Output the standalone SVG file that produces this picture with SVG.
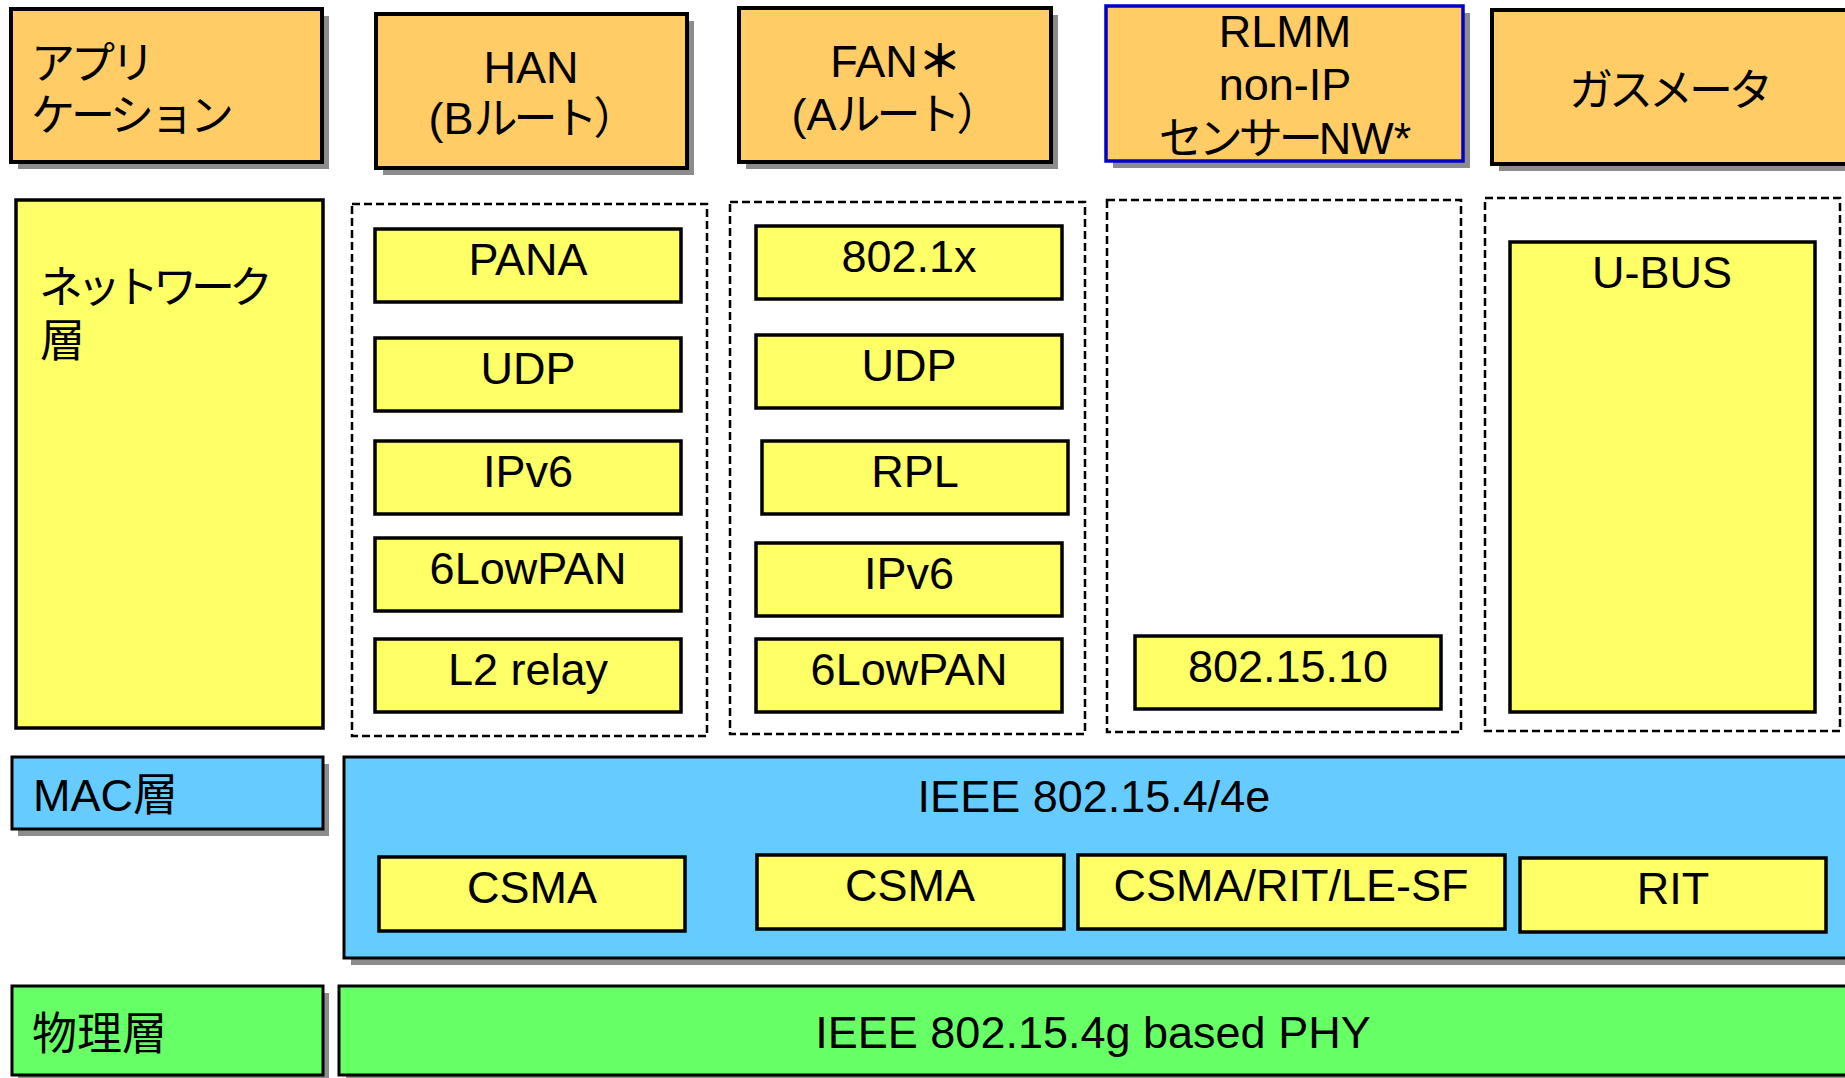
<svg xmlns="http://www.w3.org/2000/svg" width="1845" height="1078" viewBox="0 0 1845 1078">
<style>
.t{font-family:"Liberation Sans","Noto Sans CJK JP",sans-serif;font-size:45px;fill:#000}
.m{text-anchor:middle}
.j{font-family:"Noto Sans CJK JP",sans-serif;font-size:44px;letter-spacing:-4px}
.k{font-family:"Noto Sans CJK JP",sans-serif;font-size:45px}
.or{fill:#FFCC66;stroke:#000;stroke-width:4}
.orb{fill:#FFCC66;stroke:#0000CC;stroke-width:3.5}
.ye{fill:#FFFF66;stroke:#000;stroke-width:3.5}
.bl{fill:#66CCFF;stroke:#000;stroke-width:3}
.gr{fill:#66FF66;stroke:#000;stroke-width:3}
.sh{fill:#8c8c8c}
.dash{fill:none;stroke:#000;stroke-width:2.5;stroke-dasharray:8 4}
</style>
<rect width="1845" height="1078" fill="#fff"/>
<g id="app">
<rect class="sh" x="18" y="16" width="311" height="153"/>
<rect class="or" x="11" y="9" width="311" height="153"/>
<text class="t j" x="31" y="79">アプリ</text>
<text class="t j" x="31" y="131">ケーション</text>
</g>
<g id="han">
<rect class="sh" x="383" y="21" width="311" height="154"/>
<rect class="or" x="376" y="14" width="311" height="154"/>
<text class="t m" x="531" y="83">HAN</text>
<text class="t m" x="531" y="134">(B<tspan class="j">ルート）</tspan></text>
</g>
<g id="fan">
<rect class="sh" x="746" y="15" width="312" height="154"/>
<rect class="or" x="739" y="8" width="312" height="154"/>
<text class="t m" x="894" y="77">FAN<tspan class="j" font-weight="bold">＊</tspan></text>
<text class="t m" x="894" y="130">(A<tspan class="j">ルート）</tspan></text>
</g>
<g id="rlmm">
<rect class="sh" x="1113" y="13" width="357" height="155"/>
<rect class="orb" x="1106" y="6" width="357" height="155"/>
<text class="t m" x="1285" y="47">RLMM</text>
<text class="t m" x="1285" y="100">non-IP</text>
<text class="t m" x="1285" y="154"><tspan class="j">センサー</tspan>NW*</text>
</g>
<g id="gas">
<rect class="sh" x="1499" y="17" width="360" height="154"/>
<rect class="or" x="1492" y="10" width="360" height="154"/>
<text class="t m j" x="1669" y="106">ガスメータ</text>
</g>
<g id="network-layer">
<rect class="ye" x="16" y="200" width="307" height="528"/>
<text class="t j" x="39" y="303" style="letter-spacing:-6px">ネットワーク</text>
<text class="t k" x="40" y="357">層</text>
</g>
<g id="han-stack">
<rect class="dash" x="352" y="204" width="355" height="532"/>
<g id="han-pana"><rect class="ye" x="375" y="229" width="306" height="73"/><text class="t m" x="528" y="275">PANA</text></g>
<g id="han-udp"><rect class="ye" x="375" y="338" width="306" height="73"/><text class="t m" x="528" y="384">UDP</text></g>
<g id="han-ipv6"><rect class="ye" x="375" y="441" width="306" height="73"/><text class="t m" x="528" y="487">IPv6</text></g>
<g id="han-6lowpan"><rect class="ye" x="375" y="538" width="306" height="73"/><text class="t m" x="528" y="584">6LowPAN</text></g>
<g id="han-l2relay"><rect class="ye" x="375" y="639" width="306" height="73"/><text class="t m" x="528" y="685">L2 relay</text></g>
</g>
<g id="fan-stack">
<rect class="dash" x="730" y="202" width="355" height="532"/>
<g id="fan-8021x"><rect class="ye" x="756" y="226" width="306" height="73"/><text class="t m" x="909" y="272">802.1x</text></g>
<g id="fan-udp"><rect class="ye" x="756" y="335" width="306" height="73"/><text class="t m" x="909" y="381">UDP</text></g>
<g id="fan-rpl"><rect class="ye" x="762" y="441" width="306" height="73"/><text class="t m" x="915" y="487">RPL</text></g>
<g id="fan-ipv6"><rect class="ye" x="756" y="543" width="306" height="73"/><text class="t m" x="909" y="589">IPv6</text></g>
<g id="fan-6lowpan"><rect class="ye" x="756" y="639" width="306" height="73"/><text class="t m" x="909" y="685">6LowPAN</text></g>
</g>
<g id="rlmm-stack">
<rect class="dash" x="1107" y="200" width="354" height="532"/>
<g id="rlmm-802-15-10"><rect class="ye" x="1135" y="636" width="306" height="73"/><text class="t m" x="1288" y="682">802.15.10</text></g>
</g>
<g id="gas-stack">
<rect class="dash" x="1485" y="198" width="355" height="533"/>
<g id="gas-ubus"><rect class="ye" x="1510" y="242" width="305" height="470"/><text class="t m" x="1662" y="288">U-BUS</text></g>
</g>
<g id="mac-label">
<rect class="sh" x="18" y="764" width="311" height="72"/>
<rect class="bl" x="12" y="757" width="311" height="72"/>
<text class="t" x="33" y="811">MAC<tspan class="k">層</tspan></text>
</g>
<g id="mac">
<rect class="sh" x="351" y="764" width="1510" height="201"/>
<rect class="bl" x="344" y="757" width="1510" height="201"/>
<text class="t m" x="1094" y="812">IEEE 802.15.4/4e</text>
<g id="mac-csma1"><rect class="ye" x="379" y="857" width="306" height="74"/><text class="t m" x="532" y="903">CSMA</text></g>
<g id="mac-csma2"><rect class="ye" x="757" y="855" width="307" height="74"/><text class="t m" x="910" y="901">CSMA</text></g>
<g id="mac-csma-rit"><rect class="ye" x="1078" y="855" width="427" height="74"/><text class="t m" x="1291" y="901">CSMA/RIT/LE-SF</text></g>
<g id="mac-rit"><rect class="ye" x="1520" y="858" width="306" height="74"/><text class="t m" x="1673" y="904">RIT</text></g>
</g>
<g id="phy-label">
<rect class="sh" x="18" y="993" width="311" height="89"/>
<rect class="gr" x="12" y="986" width="311" height="89"/>
<text class="t k" x="32" y="1050">物理層</text>
</g>
<g id="phy">
<rect class="sh" x="346" y="993" width="1510" height="89"/>
<rect class="gr" x="339" y="986" width="1515" height="89"/>
<text class="t m" x="1093" y="1048">IEEE 802.15.4g based PHY</text>
</g>
<g id="connectors"/>
</svg>
